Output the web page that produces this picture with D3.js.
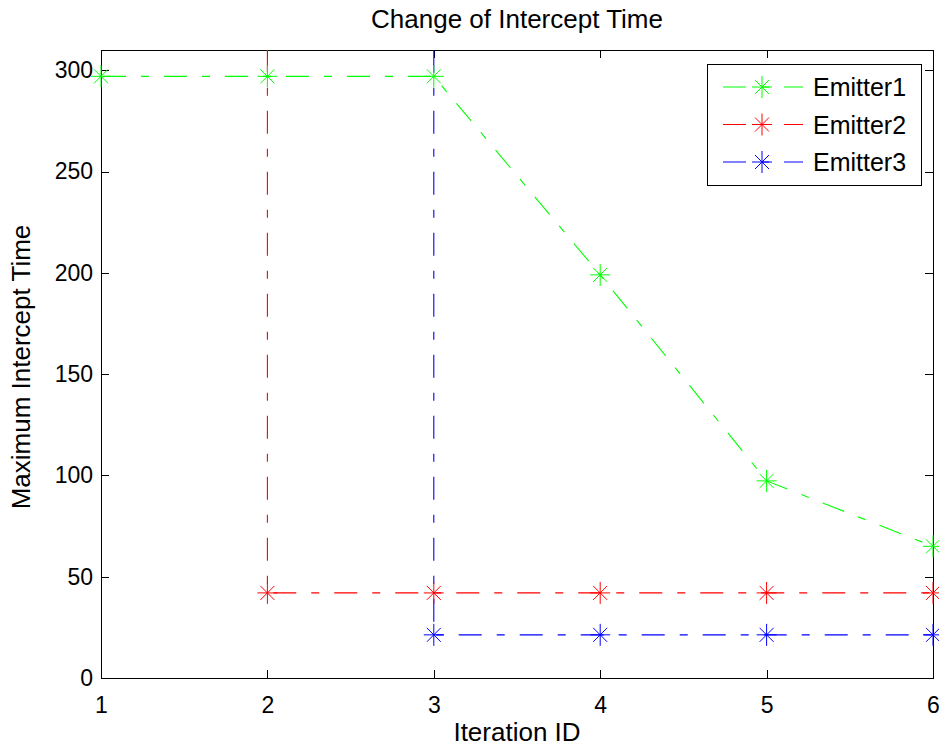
<!DOCTYPE html>
<html>
<head>
<meta charset="utf-8">
<script src="https://cdn.jsdelivr.net/npm/d3@7"></script>
<style>
  html, body { margin: 0; padding: 0; background: #fff; }
  svg { display: block; }
  text { font-family: "Liberation Sans", Arial, Helvetica, sans-serif; fill: #000; }
</style>
</head>
<body>
<svg id="chart" width="939" height="749"></svg>
<script>
// ---- data ----
const iterations = [1, 2, 3, 4, 5, 6];
const xTicks = [1, 2, 3, 4, 5, 6];
const yTicks = [0, 50, 100, 150, 200, 250, 300];
const seriesNames = ["Emitter1", "Emitter2", "Emitter3"];
const seriesColors = ["#00ff00", "#ff0000", "#0000ff"];
// Emitter2 / Emitter3 start far above the axes (clipped), giving the vertical lines
const emitter1X = [1, 2, 3, 4, 5, 6];
const emitter1Y = [297, 297, 297, 199, 97.3, 65];
const emitter2X = [2, 2, 3, 4, 5, 6];
const emitter2Y = [1000, 42, 42, 42, 42, 42];
const emitter3X = [3, 3, 4, 5, 6];
const emitter3Y = [1000, 21.3, 21.3, 21.3, 21.3];
const visibleMarkers = [[1,1,1,1,1,1],[0,1,1,1,1,1],[0,1,1,1,1]];

const svg = d3.select("#chart");
const M = { left: 101, right: 933, top: 50, bottom: 678 };
const x = d3.scaleLinear().domain([1, 6]).range([M.left, M.right]);
const y = d3.scaleLinear().domain([0, 310]).range([M.bottom, M.top]);

const FS_TICK = 23, FS_LAB = 26, FS_LEG = 25;
const DASH = [23, 15, 8, 15];
const PERIOD = d3.sum(DASH);

svg.append("defs").append("clipPath").attr("id", "clip")
  .append("rect").attr("x", M.left).attr("y", M.top)
  .attr("width", M.right - M.left).attr("height", M.bottom - M.top);

// axes box
svg.append("rect").attr("x", M.left).attr("y", M.top)
  .attr("width", M.right - M.left).attr("height", M.bottom - M.top)
  .attr("fill", "#fff").attr("stroke", "#000").attr("stroke-width", 1)
  .attr("shape-rendering", "crispEdges");

// axes with inward ticks
const TL = 8;
const gB = svg.append("g").attr("transform", `translate(0,${M.bottom})`)
  .call(d3.axisBottom(x).tickValues(xTicks).tickSize(-TL).tickPadding(TL + 11).tickFormat(d3.format("d")));
const gT = svg.append("g").attr("transform", `translate(0,${M.top})`)
  .call(d3.axisTop(x).tickValues(xTicks).tickSize(-TL).tickFormat(""));
const gL = svg.append("g").attr("transform", `translate(${M.left},0)`)
  .call(d3.axisLeft(y).tickValues(yTicks).tickSize(-TL).tickPadding(8).tickFormat(d3.format("d")));
const gR = svg.append("g").attr("transform", `translate(${M.right},0)`)
  .call(d3.axisRight(y).tickValues(yTicks).tickSize(-TL).tickFormat(""));
[gB, gT, gL, gR].forEach(g => {
  g.select(".domain").remove();
  g.selectAll(".tick line").attr("stroke", "#000").attr("shape-rendering", "crispEdges");
  g.selectAll(".tick text").style("font-size", FS_TICK + "px")
    .style("font-family", '"Liberation Sans", Arial, sans-serif').attr("fill", "#000");
});

// series
const xsAll = [emitter1X, emitter2X, emitter3X];
const ysAll = [emitter1Y, emitter2Y, emitter3Y];
const plot = svg.append("g").attr("clip-path", "url(#clip)");
const line = d3.line().x(d => x(d[0])).y(d => y(d[1]));

function star(g, cx, cy, color) {
  const r = 10, rd = 7;
  const s = g.append("g").attr("stroke", color).attr("stroke-width", 1).attr("fill", "none");
  s.append("line").attr("x1", cx - r).attr("x2", cx + r).attr("y1", cy).attr("y2", cy);
  s.append("line").attr("x1", cx).attr("x2", cx).attr("y1", cy - r - 1).attr("y2", cy + r + 1);
  s.append("line").attr("x1", cx - rd).attr("x2", cx + rd).attr("y1", cy - rd).attr("y2", cy + rd);
  s.append("line").attr("x1", cx - rd).attr("x2", cx + rd).attr("y1", cy + rd).attr("y2", cy - rd);
}

seriesNames.forEach((name, i) => {
  const pts = xsAll[i].map((xv, j) => [xv, ysAll[i][j]]);
  let offset;
  if (i === 0) offset = -2;
  else {
    const D = y(280) - y(ysAll[i][0]);
    offset = -D;
  }
  offset = ((offset % PERIOD) + PERIOD) % PERIOD;
  plot.append("path").datum(pts).attr("d", line)
    .attr("fill", "none").attr("stroke", seriesColors[i]).attr("stroke-width", 1.1)
    .attr("stroke-dasharray", DASH.join(",")).attr("stroke-dashoffset", offset);
});
seriesNames.forEach((name, i) => {
  xsAll[i].forEach((xv, j) => {
    if (visibleMarkers[i][j]) star(svg, x(xv), y(ysAll[i][j]), seriesColors[i]);
  });
});

// title and labels
svg.append("text").attr("x", (M.left + M.right) / 2).attr("y", 28)
  .attr("text-anchor", "middle").style("font-size", FS_LAB + "px").text("Change of Intercept Time");
svg.append("text").attr("x", (M.left + M.right) / 2).attr("y", 741)
  .attr("text-anchor", "middle").style("font-size", FS_LAB + "px").text("Iteration ID");
svg.append("text").attr("transform", `translate(30,${(M.top + M.bottom) / 2 + 3}) rotate(-90)`)
  .attr("text-anchor", "middle").style("font-size", FS_LAB + "px").text("Maximum Intercept Time");

// legend
const lg = svg.append("g");
lg.append("rect").attr("x", 707).attr("y", 64).attr("width", 214).attr("height", 121)
  .attr("fill", "#fff").attr("stroke", "#000").attr("stroke-width", 1).attr("shape-rendering", "crispEdges");
seriesNames.forEach((name, i) => {
  const cy = 87 + i * 37.5;
  lg.append("line").attr("x1", 723).attr("x2", 803).attr("y1", cy).attr("y2", cy)
    .attr("stroke", seriesColors[i]).attr("stroke-width", 1).attr("stroke-dasharray", DASH.join(","));
  star(lg, 762, cy, seriesColors[i]);
  lg.append("text").attr("x", 813).attr("y", cy + 9).style("font-size", FS_LEG + "px").text(name);
});
</script>
</body>
</html>
